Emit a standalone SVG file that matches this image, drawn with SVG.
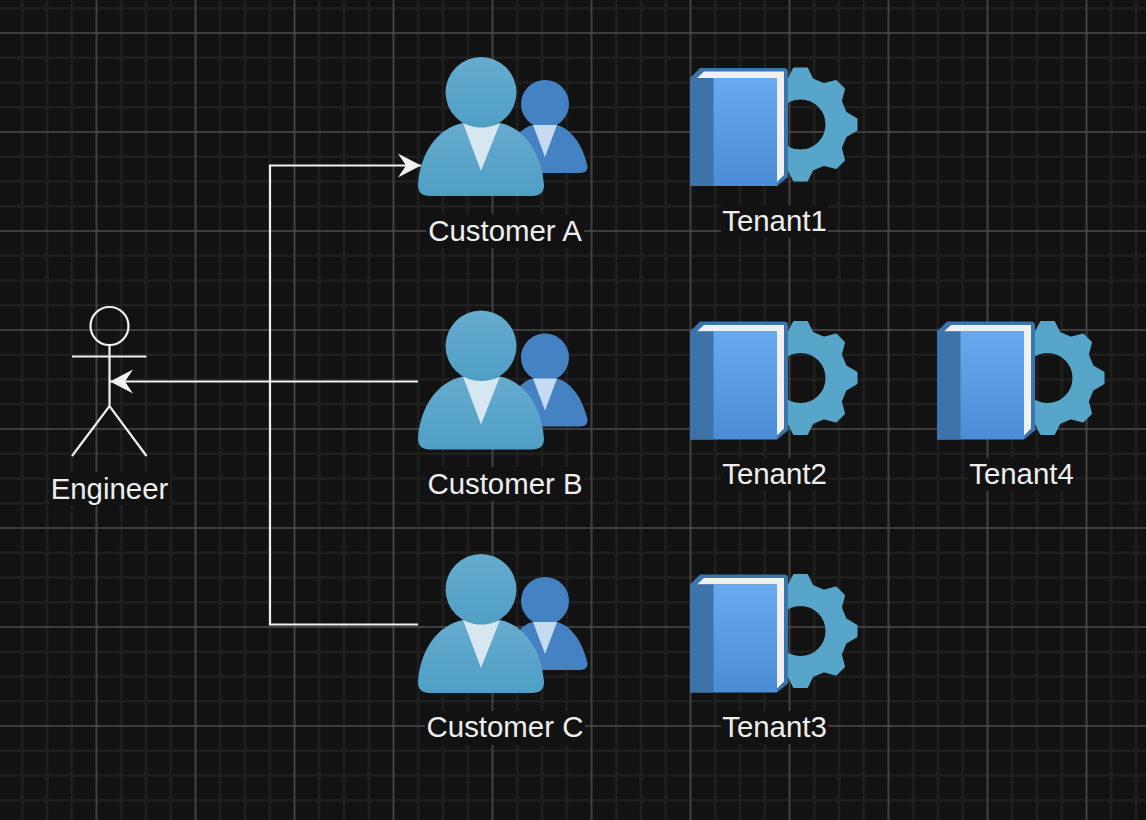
<svg xmlns="http://www.w3.org/2000/svg" width="1146" height="820" viewBox="0 0 1146 820">
<style>
.lbl{font-family:"Liberation Sans",Arial,sans-serif;font-size:29.4px;fill:#eeeeee;text-anchor:middle}
.bg{fill:#121212}
.conn{fill:none;stroke:#f0f0f0;stroke-width:2.2}
.fig{fill:none;stroke:#f0f0f0;stroke-width:2.2}
</style>
<defs>
<pattern id="grid" width="99" height="99" patternUnits="userSpaceOnUse" x="94.500" y="31">
<path d="M0 26.750H99M0 51.500H99M0 76.250H99M26.750 0V99M51.500 0V99M76.250 0V99" fill="none" stroke="#1f1f1f" stroke-width="2.500"/>
<path d="M0 2H99M2 0V99" fill="none" stroke="#4c4c4c" stroke-width="1.600"/>
</pattern>
<linearGradient id="big" x1="0" y1="0" x2="0" y2="1"><stop offset="0" stop-color="#66abcf"/><stop offset="1" stop-color="#4f9fc5"/></linearGradient>
<linearGradient id="front" x1="0" y1="0" x2="0" y2="1"><stop offset="0" stop-color="#68aaf0"/><stop offset="1" stop-color="#4a8cd6"/></linearGradient>
<marker id="arr" markerUnits="userSpaceOnUse" markerWidth="26" markerHeight="26" refX="24" refY="13" orient="auto">
<path d="M1 1 L24 13 L1 25 L9 13 Z" fill="#f0f0f0"/>
</marker>
<g id="people">
<circle cx="545" cy="104" r="24" fill="#4482c4"/>
<path d="M533 125 C518 128 509 145 505 173 L580 173 Q588 173 587.500 166 C583 146 572 129 557 125 L545 131 Z" fill="#4482c4"/>
<path d="M533 125 L557 125 L545 157 Z" fill="#c6daf0"/>
<circle cx="481" cy="92.500" r="35.500" fill="url(#big)"/>
<path d="M463 123 C437 128 420 154 418 185 Q418 196 430 196 L532 196 Q544 196 544 185 C542 154 525 128 500 123 L481 129 Z" fill="url(#big)"/>
<path d="M463 123 Q481 132 500 123 L481 171 Z" fill="#d6e7ef"/>
</g>
<g id="book">
<path transform="translate(100.500 -0.500)" fill-rule="evenodd" stroke="#57a6c9" stroke-width="2" stroke-linejoin="round" fill="#57a6c9" d="M-12 -45L-6.500 -56L6.500 -56L12 -45L23.300 -40.300L35.500 -43.500L43.500 -35.500L40.300 -23.300L45 -12L56 -5.500L56 5.500L45 12L40.300 23.300L43.500 35.500L35.500 43.500L23.300 40.300L12 45L6.500 56L-6.500 56L-12 45L-23.300 40.300L-35.500 43.500L-43.500 35.500L-40.300 23.300L-45 12L-56 5.500L-56 -5.500L-45 -12L-40.300 -23.300L-43.500 -35.500L-35.500 -43.500L-23.300 -40.300Z M26 0A26 26 0 1 0 -26 0A26 26 0 1 0 26 0Z"/>
<path d="M-10 -47 L0 -57 L84 -57 Q88 -57 88 -53 L88 52 L77 61 L76 -47 Z" fill="#3a75ad"/>
<path d="M-3 -47 L4 -53.500 L84 -53.500 L84 50 L77 57 L77 -47 Z" fill="#f0f0f0"/>
<rect x="-10" y="-47" width="87" height="108" fill="url(#front)"/>
<rect x="-10" y="-47" width="23.500" height="108" fill="#3d73a8"/>
</g>
</defs>
<rect width="1146" height="820" fill="#121212"/>
<rect width="1146" height="820" fill="url(#grid)"/>
<g id="connectors">
<path class="conn" d="M418 624.500 H270 V165.500 H421" marker-end="url(#arr)"/>
<path class="conn" d="M418 381.500 H110" marker-end="url(#arr)"/>
</g>
<g id="engineer">
<circle class="fig" cx="109.500" cy="326" r="19"/>
<path class="fig" d="M109.500 345 V406 M72 356.500 H146.500 M72 456 L109.500 406 L146.500 456"/>
<rect class="bg" x="50" y="472" width="120" height="34"/>
<text class="lbl" x="109.500" y="499">Engineer</text>
</g>
<g id="customer-a">
<use href="#people"/>
<rect class="bg" x="426" y="214" width="158" height="34"/>
<text class="lbl" x="505" y="241">Customer A</text>
</g>
<g id="customer-b">
<use href="#people" y="253.500"/>
<rect class="bg" x="426" y="467" width="158" height="34"/>
<text class="lbl" x="505" y="494">Customer B</text>
</g>
<g id="customer-c">
<use href="#people" y="497"/>
<rect class="bg" x="425" y="711" width="160" height="34"/>
<text class="lbl" x="505" y="737">Customer C</text>
</g>
<g id="tenant1">
<use href="#book" x="700" y="125"/>
<rect class="bg" x="721" y="205" width="107" height="33"/>
<text class="lbl" x="774.500" y="231">Tenant1</text>
</g>
<g id="tenant2">
<use href="#book" x="700" y="378.500"/>
<rect class="bg" x="721" y="458" width="107" height="33"/>
<text class="lbl" x="774.500" y="484">Tenant2</text>
</g>
<g id="tenant3">
<use href="#book" x="700" y="631.500"/>
<rect class="bg" x="721" y="711" width="107" height="33"/>
<text class="lbl" x="774.500" y="737">Tenant3</text>
</g>
<g id="tenant4">
<use href="#book" x="947" y="378.500"/>
<rect class="bg" x="968" y="458" width="107" height="33"/>
<text class="lbl" x="1021.500" y="484">Tenant4</text>
</g>
</svg>
